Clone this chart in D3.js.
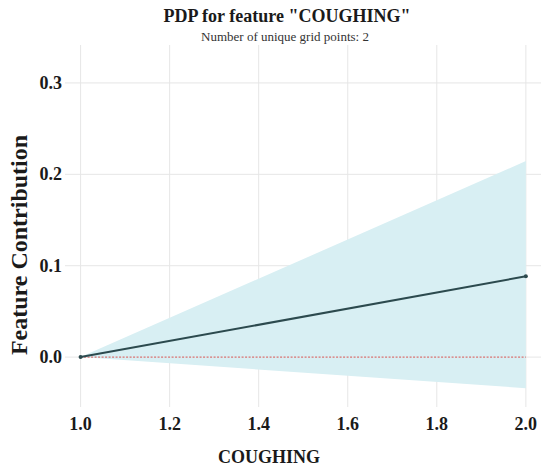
<!DOCTYPE html>
<html>
<head>
<meta charset="utf-8">
<script src="https://cdn.jsdelivr.net/npm/d3@7"></script>
<style>
  body { margin: 0; background: #fff; }
  text { font-family: "Liberation Serif", "Times New Roman", serif; fill: #1a1a1a; }
</style>
</head>
<body>
<script>
var width = 541,
    height = 468;

// data
var gridValues = [1.0, 2.0];
var pdpValues = [0.0, 0.0884];
var upperValues = [0.0, 0.2145];
var lowerValues = [0.0, -0.034];
var xTicks = [1.0, 1.2, 1.4, 1.6, 1.8, 2.0];
var yTicks = [0.0, 0.1, 0.2, 0.3];

var svg = d3.select("body").append("svg")
    .attr("width", width)
    .attr("height", height);

var plotLeft = 65, plotRight = 541, plotTop = 45, plotBottom = 407;

var x = d3.scaleLinear()
    .domain([0.965, 2.034])
    .range([plotLeft, plotRight]);
var y = d3.scaleLinear()
    .domain([-0.0546, 0.3415])
    .range([plotBottom, plotTop]);

// grid
svg.append("g")
    .selectAll("line")
    .data(xTicks)
    .join("line")
    .attr("x1", function (d) { return x(d); })
    .attr("x2", function (d) { return x(d); })
    .attr("y1", plotTop)
    .attr("y2", plotBottom)
    .attr("stroke", "#e6e6e6")
    .attr("stroke-width", 1);
svg.append("g")
    .selectAll("line")
    .data(yTicks)
    .join("line")
    .attr("x1", plotLeft)
    .attr("x2", plotRight)
    .attr("y1", function (d) { return y(d); })
    .attr("y2", function (d) { return y(d); })
    .attr("stroke", "#e6e6e6")
    .attr("stroke-width", 1);

// confidence band
var band = gridValues.map(function (g, i) {
    return {x: g, lo: lowerValues[i], hi: upperValues[i]};
});
svg.append("path")
    .datum(band)
    .attr("fill", "#d8eff3")
    .attr("d", d3.area()
        .x(function (d) { return x(d.x); })
        .y0(function (d) { return y(d.lo); })
        .y1(function (d) { return y(d.hi); }));

// zero reference line
svg.append("line")
    .attr("x1", x(gridValues[0]))
    .attr("x2", x(gridValues[gridValues.length - 1]))
    .attr("y1", y(0))
    .attr("y2", y(0))
    .attr("stroke", "#d9534f")
    .attr("stroke-width", 1)
    .attr("stroke-dasharray", "2,1.5");

// pdp line
var pts = gridValues.map(function (g, i) { return [g, pdpValues[i]]; });
svg.append("path")
    .datum(pts)
    .attr("fill", "none")
    .attr("stroke", "#2c4a4e")
    .attr("stroke-width", 2)
    .attr("d", d3.line()
        .x(function (d) { return x(d[0]); })
        .y(function (d) { return y(d[1]); }));
svg.append("g")
    .selectAll("circle")
    .data(pts)
    .join("circle")
    .attr("cx", function (d) { return x(d[0]); })
    .attr("cy", function (d) { return y(d[1]); })
    .attr("r", 2)
    .attr("fill", "#2c4a4e");

// tick labels
svg.append("g")
    .selectAll("text")
    .data(xTicks)
    .join("text")
    .attr("x", function (d) { return x(d); })
    .attr("y", 430)
    .attr("text-anchor", "middle")
    .style("font-size", "18px")
    .style("font-weight", "bold")
    .text(function (d) { return d3.format(".1f")(d); });
svg.append("g")
    .selectAll("text")
    .data(yTicks)
    .join("text")
    .attr("x", 62)
    .attr("y", function (d) { return y(d) + 6; })
    .attr("text-anchor", "end")
    .style("font-size", "18px")
    .style("font-weight", "bold")
    .text(function (d) { return d3.format(".1f")(d); });

// titles
svg.append("text")
    .attr("x", 287)
    .attr("y", 22)
    .attr("text-anchor", "middle")
    .style("font-size", "18px")
    .style("font-weight", "bold")
    .text('PDP for feature "COUGHING"');
svg.append("text")
    .attr("x", 285)
    .attr("y", 41)
    .attr("text-anchor", "middle")
    .style("font-size", "13px")
    .style("fill", "#333")
    .text("Number of unique grid points: 2");
svg.append("text")
    .attr("x", 269)
    .attr("y", 463)
    .attr("text-anchor", "middle")
    .style("font-size", "18px")
    .style("font-weight", "bold")
    .text("COUGHING");
svg.append("text")
    .attr("transform", "translate(27,245) rotate(-90)")
    .attr("text-anchor", "middle")
    .style("font-size", "24px")
    .style("font-weight", "bold")
    .text("Feature Contribution");
</script>
</body>
</html>
